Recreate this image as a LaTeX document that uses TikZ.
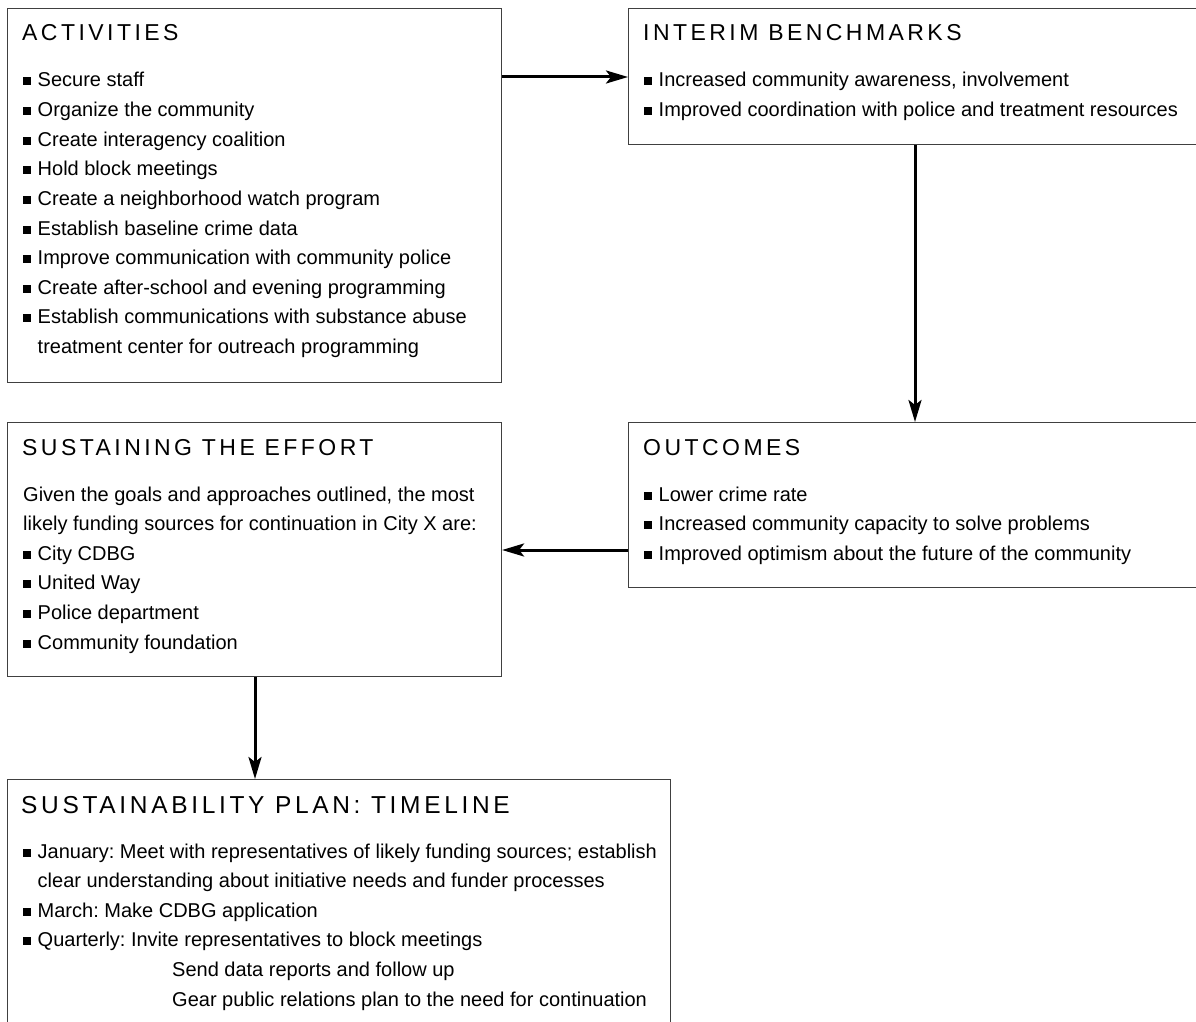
\documentclass[tikz,border=0pt]{standalone}
\usepackage{fontspec}
\setmainfont{Liberation Sans}
\newfontfamily\headfont[LetterSpace=15]{Liberation Sans}
\usetikzlibrary{arrows.meta}
\frenchspacing
\newcommand{\bul}{\rule[1.5pt]{8pt}{8pt}\hspace{6.5pt}}
\tikzset{
  box/.style={draw=black!75, line width=1.1pt, rectangle, inner sep=0pt, anchor=north west},
  txt/.style={anchor=base west, inner sep=0pt, font=\fontsize{20}{24}\selectfont},
  hd/.style={anchor=base west, inner sep=0pt, font=\headfont\fontsize{23}{27}\selectfont},
  hdbig/.style={anchor=base west, inner sep=0pt, font=\headfont\fontsize{24.5}{28}\selectfont},
  arr/.style={line width=3pt, -{Stealth[length=22pt, width=13pt, inset=5pt]}},
}
\begin{document}
\begin{tikzpicture}[x=1pt, y=-1pt]
\useasboundingbox[fill=white] (0,0) rectangle (1196,1022);
% boxes
\node[box, minimum width=494pt, minimum height=374pt] (act) at (7,8) {};
\node[box, minimum width=570pt, minimum height=136pt] (int) at (628,8) {};
\node[box, minimum width=570pt, minimum height=165pt] (out) at (628,422) {};
\node[box, minimum width=494pt, minimum height=254pt] (sus) at (7,422) {};
\node[box, minimum width=663pt, minimum height=270pt] (tl) at (7,779) {};
% activities
\node[hd] (acth) at (22,41) {ACTIVITIES};
\node[txt] (a1) at (23,87.0) {\bul Secure staff};
\node[txt] (a2) at (23,116.6) {\bul Organize the community};
\node[txt] (a3) at (23,146.2) {\bul Create interagency coalition};
\node[txt] (a4) at (23,175.8) {\bul Hold block meetings};
\node[txt] (a5) at (23,205.4) {\bul Create a neighborhood watch program};
\node[txt] (a6) at (23,235.0) {\bul Establish baseline crime data};
\node[txt] (a7) at (23,264.6) {\bul Improve communication with community police};
\node[txt] (a8) at (23,294.2) {\bul Create after-school and evening programming};
\node[txt] (a9) at (23,323.8) {\bul Establish communications with substance abuse};
\node[txt] (a10) at (37.5,353.4) {treatment center for outreach programming};
% interim
\node[hd] (inth) at (643,41) {INTERIM BENCHMARKS};
\node[txt] (i1) at (644,87.0) {\bul Increased community awareness, involvement};
\node[txt] (i2) at (644,116.6) {\bul Improved coordination with police and treatment resources};
% outcomes
\node[hd] (outh) at (643,455) {OUTCOMES};
\node[txt] (o1) at (644,501.0) {\bul Lower crime rate};
\node[txt] (o2) at (644,530.6) {\bul Increased community capacity to solve problems};
\node[txt] (o3) at (644,560.2) {\bul Improved optimism about the future of the community};
% sustaining
\node[hd] (sush) at (22,455) {SUSTAINING THE EFFORT};
\node[txt] (s1) at (23,501.0) {Given the goals and approaches outlined, the most};
\node[txt] (s2) at (23,530.6) {likely funding sources for continuation in City X are:};
\node[txt] (s3) at (23,560.2) {\bul City CDBG};
\node[txt] (s4) at (23,589.8) {\bul United Way};
\node[txt] (s5) at (23,619.4) {\bul Police department};
\node[txt] (s6) at (23,649.0) {\bul Community foundation};
% timeline
\node[hdbig] (tlh) at (21,813) {SUSTAINABILITY PLAN: TIMELINE};
\node[txt] (t1) at (23,858.0) {\bul January: Meet with representatives of likely funding sources; establish};
\node[txt] (t2) at (37.5,887.6) {clear understanding about initiative needs and funder processes};
\node[txt] (t3) at (23,917.2) {\bul March: Make CDBG application};
\node[txt] (t4) at (23,946.8) {\bul Quarterly: Invite representatives to block meetings};
\node[txt] (t5) at (172,976.4) {Send data reports and follow up};
\node[txt] (t6) at (172,1006.0) {Gear public relations plan to the need for continuation};
% connectors
\draw[arr] ([yshift=-69pt]act.north east) -- ([yshift=-69pt]int.north west);
\draw[arr] ([xshift=287pt]int.south west) -- ([xshift=287pt]out.north west);
\draw[arr] ([yshift=-128pt]out.north west) -- ([yshift=-128pt]sus.north east);
\draw[arr] ([xshift=248pt]sus.south west) -- ([xshift=248pt]tl.north west);
\end{tikzpicture}
\end{document}
